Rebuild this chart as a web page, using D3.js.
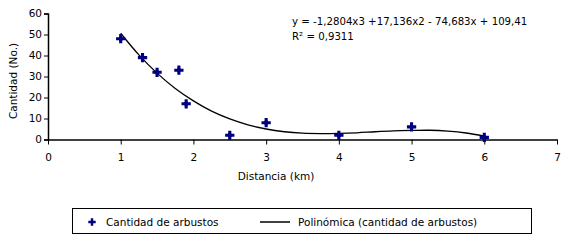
<!DOCTYPE html>
<html><head><meta charset="utf-8">
<script src="https://cdn.jsdelivr.net/npm/d3@7"></script>
<style>body{margin:0;background:#fff}svg{display:block}text{font-family:"DejaVu Sans",Verdana,sans-serif;fill:#000}</style>
</head><body><svg id="c" width="580" height="247"></svg>
<script>
const distX = [1, 1.3, 1.5, 1.8, 1.9, 2.5, 3, 4, 5, 6];
const cantidad = [48, 39, 32, 33, 17, 2, 8, 2, 6, 1];
const trendX = [1,1.25,1.5,1.75,2,2.25,2.5,2.75,3,3.25,3.5,3.75,4,4.25,4.5,4.75,5,5.25,5.5,5.75,6];
const trendY = [50.6,40.3,31.6,24.3,18.4,13.5,9.8,7.0,5.0,3.7,3.0,2.8,2.9,3.2,3.7,4.1,4.3,4.4,4.0,3.1,1.6];
const xTicks = [0,1,2,3,4,5,6,7];
const yTicks = [0,10,20,30,40,50,60];
const eqText = "y = -1,2804x3 +17,136x2 - 74,683x + 109,41";
const r2Text = "R² = 0,9311";
const legendLabels = ["Cantidad de arbustos", "Polinómica (cantidad de arbustos)"];

const svg = d3.select("#c");
const x = d3.scaleLinear().domain([0,7]).range([48,557]);
const y = d3.scaleLinear().domain([0,60]).range([139.5,13.5]);

const fs = "10.5px";
// y axis
const ya = svg.append("g").attr("transform","translate(48,0)")
  .call(d3.axisLeft(y).tickValues(yTicks).tickFormat(d3.format("d")).tickSize(4).tickPadding(2));
ya.selectAll("text").style("font-size",fs);
// x axis
const xa = svg.append("g").attr("transform",`translate(0,${y(0)})`)
  .call(d3.axisBottom(x).tickValues(xTicks).tickFormat(d3.format("d")).tickSize(5).tickSizeOuter(0).tickPadding(9));
xa.selectAll("text").style("font-size",fs);
svg.selectAll(".domain").attr("stroke","#000").attr("stroke-width",1.5);
svg.selectAll(".tick line").attr("stroke","#000");

// trend line
svg.append("path").datum(trendX.map((d,i)=>[d,trendY[i]]))
  .attr("d", d3.line().x(d=>x(d[0])).y(d=>y(d[1])).curve(d3.curveCatmullRom))
  .attr("fill","none").attr("stroke","#000").attr("stroke-width",1.3);

// points
const sym = d3.symbol().type(d3.symbolCross).size(48);
const dia = d3.symbol().type(d3.symbolDiamond).size(22);
const pg = svg.append("g").selectAll("g").data(distX).join("g")
  .attr("transform",(d,i)=>`translate(${x(d)},${y(cantidad[i])})`);
pg.append("path").attr("d", sym).attr("fill","#000080");
pg.append("path").attr("d", dia).attr("fill","#000080");

// axis titles
svg.append("text").attr("x",276).attr("y",180).attr("text-anchor","middle").style("font-size",fs).text("Distancia (km)");
svg.append("text").attr("transform","translate(17,81) rotate(-90)").attr("text-anchor","middle").style("font-size",fs).text("Cantidad (No.)");

// equation
svg.append("text").attr("x",292).attr("y",24.5).style("font-size","10.2px").text(eqText);
svg.append("text").attr("x",292).attr("y",39.5).style("font-size","10.2px").text(r2Text);

// legend
svg.append("rect").attr("x",72.5).attr("y",208.5).attr("width",459).attr("height",25)
  .attr("fill","#fff").attr("stroke","#000");
svg.append("path").attr("transform","translate(92,222)").attr("d",d3.symbol().type(d3.symbolCross).size(30)).attr("fill","#000080");
svg.append("text").attr("x",106).attr("y",225.5).style("font-size",fs).text(legendLabels[0]);
svg.append("line").attr("x1",260).attr("x2",290).attr("y1",222).attr("y2",222).attr("stroke","#000").attr("stroke-width",1.5);
svg.append("text").attr("x",298).attr("y",225.5).style("font-size",fs).text(legendLabels[1]);
</script></body></html>
